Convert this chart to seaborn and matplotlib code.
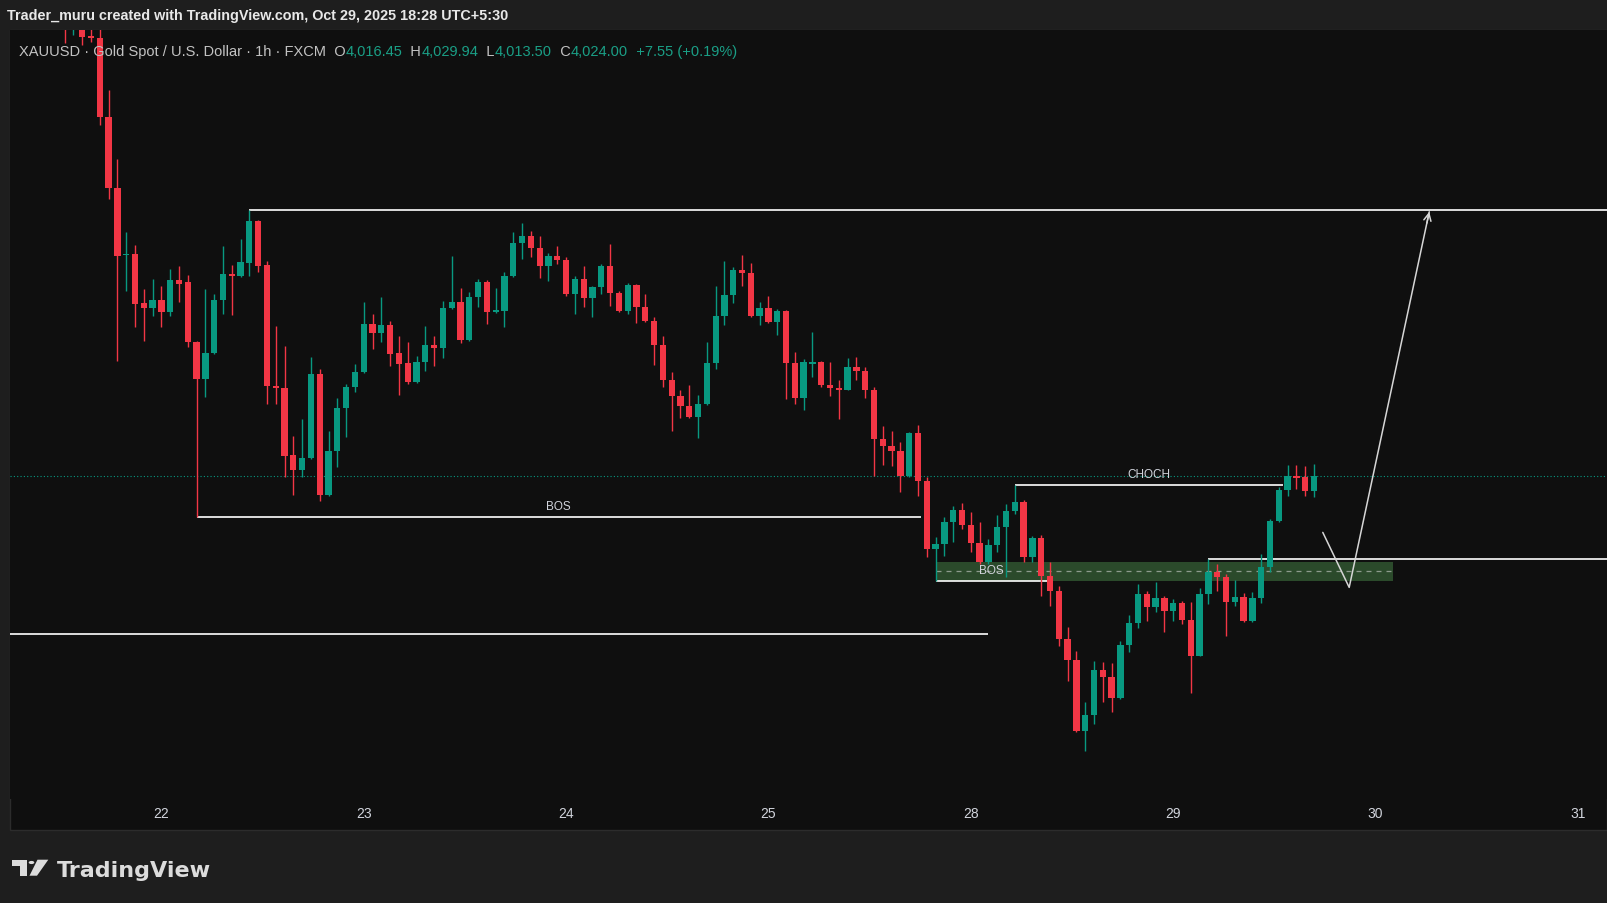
import numpy as np
import pandas as pd
import matplotlib
matplotlib.use("Agg")
import matplotlib.pyplot as plt
from matplotlib.patches import Rectangle, Polygon, Circle
import seaborn as sns

# ---- data: XAUUSD 1h candles (bar index 0 = first bar of Oct 22) ----
bars = list(range(-11, 132))
opens = [4262, 4250, 4252, 4244, 4243.2, 4203.5, 4168, 4134.5, 4135, 4110.5, 4108,
         4112, 4106, 4122, 4121, 4091, 4072.5, 4085.5, 4112, 4125, 4124,
         4130.5, 4151.5, 4129.5, 4069, 4068, 4034.5, 4027, 4033, 4075, 4014.5,
         4036.5, 4058, 4068.5, 4076, 4100, 4095.5, 4099.5, 4085.5, 4080.5, 4071,
         4081, 4089.5, 4088, 4108, 4111, 4092, 4113.5, 4121, 4106.2, 4106.5,
         4124, 4140.5, 4144, 4138, 4129, 4134, 4132, 4115, 4122.5, 4113,
         4118.5, 4129, 4115.5, 4106.5, 4119.5, 4108.5, 4101.5, 4089.5, 4072, 4064,
         4059, 4053.5, 4060, 4080.5, 4104, 4114.5, 4127, 4125.7, 4104, 4108,
         4101, 4106.5, 4080.5, 4063, 4080.2, 4081, 4069.5, 4068, 4067, 4078.5,
         4076.5, 4067, 4042.5, 4039, 4036.5, 4024, 4045.5, 4021.5, 3987.5, 3990,
         4001, 4007, 3999.5, 3990.5, 3981, 3989.5, 3998.5, 4006.5, 4011, 3983.5,
         3993, 3974, 3966.5, 3942.5, 3932, 3896.5, 3904.5, 3927, 3923.5, 3913,
         3939.5, 3950.5, 3965, 3958.5, 3963, 3956.5, 3960.5, 3952, 3934, 3965,
         3976, 3973.5, 3961, 3963.5, 3951.5, 3963, 3978.5, 4001.5, 4017, 4024,
         4023.5, 4016.45]
highs = [4268, 4262, 4258, 4247.5, 4247.5, 4217, 4182.5, 4146, 4139.5, 4117.5, 4122.5,
         4119, 4127.5, 4129, 4124.5, 4091.5, 4117.5, 4115, 4139, 4129.5, 4142.5,
         4157, 4152, 4131.5, 4099, 4089, 4044, 4052.5, 4083.5, 4077.5, 4046.5,
         4063, 4070, 4080, 4111, 4105, 4113.5, 4101.5, 4094, 4091, 4084,
         4099, 4094, 4111.5, 4134, 4118, 4116, 4122.5, 4122, 4118, 4126,
         4146, 4150.5, 4146.5, 4144, 4135.5, 4139, 4133.5, 4124, 4129, 4119,
         4130, 4140, 4116.5, 4120.5, 4120, 4115, 4103.5, 4094, 4076, 4067,
         4069.5, 4064.5, 4091, 4119, 4131.5, 4128.5, 4134.5, 4130.5, 4111, 4114,
         4107.5, 4107, 4086, 4082.5, 4096, 4081.5, 4081, 4072, 4083, 4083.5,
         4078.5, 4068.5, 4049, 4046.5, 4041, 4046, 4049.5, 4023.5, 3993.5, 4003.5,
         4009, 4010.5, 4006, 4001, 3992.5, 4004.5, 4010, 4019.5, 4012, 3994,
         3994.5, 3981, 3969, 3948.5, 3936.5, 3911, 3931.5, 3931, 3930.5, 3941.5,
         3954.5, 3970, 3966.5, 3971, 3964, 3962.5, 3961.5, 3961, 3968, 3982.5,
         3980, 3975, 3972, 3965.5, 3966, 3985, 4002.5, 4018.5, 4029.5, 4029.5,
         4029, 4029.94]
lows = [4240.5, 4244.5, 4239.5, 4241, 4199.5, 4162.5, 4081.5, 4116.5, 4098.5, 4091.5, 4104,
        4098.5, 4104, 4111, 4088.5, 4003.7, 4063.5, 4085, 4105, 4104.5, 4123.5,
        4124, 4126, 4060, 4060, 4023.5, 4014.5, 4023.5, 4032.5, 4011.5, 4014,
        4028.5, 4043.5, 4066, 4075.5, 4087.5, 4091, 4079, 4064.5, 4070, 4070.5,
        4076.5, 4079, 4083, 4107.5, 4090.5, 4091.5, 4108.5, 4100, 4105.5, 4098.5,
        4123.5, 4132.5, 4133.5, 4123, 4121.5, 4130, 4114, 4105, 4108.5, 4103.5,
        4115, 4109, 4106, 4105, 4100.5, 4101, 4079.5, 4068.5, 4046.5, 4053,
        4053, 4043, 4059.5, 4077.5, 4099.5, 4110.5, 4119, 4103.5, 4099.5, 4100.5,
        4094.5, 4062.5, 4060, 4057, 4073.5, 4068.5, 4064, 4052.5, 4067, 4072,
        4063, 4024, 4029.5, 4029, 4016, 4023.5, 4014, 3983.5, 3971.5, 3984,
        3991, 3997.5, 3986, 3980, 3980, 3986, 3973.5, 4005, 3981, 3981,
        3964, 3959, 3939, 3921.5, 3896, 3886.5, 3900, 3911, 3906, 3912.5,
        3936, 3948, 3951.5, 3956, 3946, 3951.5, 3950, 3915.5, 3934, 3960,
        3966.5, 3944, 3959, 3951, 3951, 3960.5, 3976, 4001, 4014, 4017.5,
        4014, 4013.5]
closes = [4252, 4256, 4243.5, 4243, 4203.5, 4168, 4134, 4135, 4110, 4108, 4112,
          4106, 4122, 4120, 4091, 4072.5, 4085.5, 4112, 4125, 4124.2, 4131,
          4151.5, 4129, 4069, 4068, 4034, 4027, 4033, 4075, 4014.5, 4036.5,
          4058, 4068.5, 4076, 4100, 4095.5, 4099.5, 4085, 4080, 4071, 4081,
          4089.5, 4088, 4108, 4111, 4092, 4113.5, 4121, 4106, 4106.7, 4124,
          4140.5, 4144, 4138, 4129, 4134, 4132, 4115, 4122.5, 4113, 4118.5,
          4129, 4115.5, 4106.5, 4119.5, 4108.5, 4101.5, 4089.5, 4072, 4064, 4059,
          4053.5, 4060, 4080.5, 4104, 4114.5, 4127, 4125.7, 4104, 4108, 4101,
          4106.5, 4080.5, 4063, 4081, 4080.7, 4069.5, 4068, 4067, 4078.5, 4076.5,
          4067, 4042.5, 4039, 4036.5, 4024, 4045.5, 4021.5, 3987.5, 3990, 4001,
          4007, 3999.5, 3990.5, 3981, 3989.5, 3998.5, 4006.5, 4011, 3983.5, 3993,
          3974, 3966.5, 3942.5, 3932, 3896.5, 3904.5, 3927, 3923.5, 3913, 3939.5,
          3950.5, 3965, 3958.5, 3963, 3956.5, 3960.5, 3952, 3934, 3965, 3976,
          3973.5, 3961, 3963.5, 3951.5, 3963, 3978.5, 4001.5, 4017, 4024, 4023,
          4016.45, 4024.00]

day_labels = ["22", "23", "24", "25", "28", "29", "30", "31"]
day_bars = [0, 23, 46, 69, 92, 115, 138, 161]

old_low_level = 3944.8      # line coming in from the left edge
old_low_end = 94
zone_start, zone_end = 88, 140
zone_top = 3981.2
path_x = [132, 135, 144.1]  # projected move
path_y = [3995.8, 3968.3, 4156.1]

# ---- style ----
OUTER = "#1e1e1e"
PANEL = "#0f0f0f"
UP = "#089981"
DOWN = "#f23645"
TXT = "#d1d4dc"
sns.set_theme(style="dark", rc={"axes.facecolor": PANEL, "figure.facecolor": OUTER})
plt.rcParams["font.family"] = ["Liberation Sans", "DejaVu Sans"]

W, H = 1607, 904
fig = plt.figure(figsize=(W / 100, H / 100), dpi=100)


def fx(x):
    return x / W


def fy(y):
    return 1 - y / H


fig.add_artist(Rectangle((fx(10), fy(831)), 1 - fx(10), fy(31) - fy(831),
                         transform=fig.transFigure, facecolor=PANEL,
                         edgecolor="#2c2c2c", lw=1, zorder=0))

ax = fig.add_axes([fx(10), fy(800), 1 - fx(10), fy(31) - fy(800)])
ax.set_facecolor(PANEL)
xmin, xmax = -17.2, 164.3
ax.set_xlim(xmin, xmax)
ax.set_ylim(3862.5, 4247.0)

df = pd.DataFrame({"bar": bars, "o": opens, "h": highs, "l": lows, "c": closes})
df["col"] = np.where(df.c >= df.o, UP, DOWN)
df = df.set_index("bar", drop=False)

# current price line
ax.axhline(df.c.iloc[-1], color=UP, lw=0.8, ls=(0, (1, 2)), zorder=1)

# demand zone
ax.add_patch(Rectangle((zone_start, df.l[88]), zone_end - zone_start, zone_top - df.l[88],
                       facecolor="#2b4a2b", lw=0, zorder=1.5))
ax.hlines((zone_top + df.l[88]) / 2, zone_start, zone_end, colors="#8d9b8d",
          linestyles=(0, (4, 4)), lw=0.9, zorder=1.6)

# structure lines
levels = [
    (df.h[10], 10, xmax, None),
    (df.l[4], 4, 86.3, "BOS"),
    (old_low_level, xmin, old_low_end, None),
    (df.l[88], 88, 100.7, "BOS"),
    (df.h[97], 97, 127.5, "CHOCH"),
    (df.h[119], 119, xmax, None),
]
for lvl, a, b, lab in levels:
    ax.hlines(lvl, a, b, colors="white", lw=1.2, zorder=2)
    if lab:
        ax.annotate(lab, xy=((a + b) / 2, lvl), xytext=(0, 7.6), textcoords="offset points",
                    ha="center", va="center", color=TXT, fontsize=8.5, zorder=6)

# candles
ax.vlines(df.bar, df.l, df.h, colors=df.col, lw=1.0, zorder=3)
ax.bar(df.bar, np.maximum((df.c - df.o).abs(), 0.6), bottom=np.minimum(df.o, df.c),
       width=0.72, color=df.col, linewidth=0, zorder=4)

# projected path with arrow
sns.lineplot(x=path_x, y=path_y, ax=ax, color="#d6d6d6", lw=1.1, sort=False,
             estimator=None, zorder=5)
dx, dy = path_x[-1] - path_x[-2], path_y[-1] - path_y[-2]
ax.annotate("", xy=(path_x[-1], path_y[-1]),
            xytext=(path_x[-1] - 0.03 * dx, path_y[-1] - 0.03 * dy),
            arrowprops=dict(arrowstyle="->", color="#d6d6d6", lw=1.1,
                            mutation_scale=13, shrinkA=0, shrinkB=0), zorder=5)

ax.set_xticks(day_bars, day_labels)
ax.set_yticks([])
ax.tick_params(axis="x", length=0, pad=5, labelcolor=TXT, labelsize=10)
ax.grid(False)
for s in ax.spines.values():
    s.set_visible(False)
ax.set_xlabel("")
ax.set_ylabel("")

# ---- texts ----
fig.text(fx(7), fy(16), "Trader_muru created with TradingView.com, Oct 29, 2025 18:28 UTC+5:30",
         color="#e8e8e8", fontsize=10.4, fontweight="bold", va="center", ha="left")

o, h, l, c = df.o.iloc[-1], df.h.iloc[-1], df.l.iloc[-1], df.c.iloc[-1]
chg = c - df.c.iloc[-2]
pct = chg / df.c.iloc[-2] * 100
GRAY = "#c3c3c3"
VAL = "#1a9f86"
HDR = 10.5
parts = [("XAUUSD · Gold Spot / U.S. Dollar · 1h · FXCM", GRAY),
         ("  O", GRAY), (f"{o:,.2f}", VAL),
         ("  H", GRAY), (f"{h:,.2f}", VAL),
         ("  L", GRAY), (f"{l:,.2f}", VAL),
         ("  C", GRAY), (f"{c:,.2f}", VAL),
         (f"  {chg:+.2f} ({pct:+.2f}%)", VAL)]
t = fig.text(fx(19), fy(51.7), parts[0][0], color=parts[0][1], fontsize=HDR,
             va="center", ha="left", zorder=10)
for s, col in parts[1:]:
    t = ax.annotate(s, xy=(1, 0.5), xycoords=t, xytext=(0, 0), textcoords="offset points",
                    color=col, fontsize=HDR, va="center", ha="left",
                    annotation_clip=False, zorder=10)

# footer logo
logo = "#dcdcdc"
fig.add_artist(Polygon([(fx(12), fy(860.7)), (fx(26.7), fy(860.7)), (fx(26.7), fy(876.7)),
                        (fx(20), fy(876.7)), (fx(20), fy(866.7)), (fx(12), fy(866.7))],
                       closed=True, transform=fig.transFigure, facecolor=logo, lw=0))
fig.add_artist(Circle((fx(31.5), fy(863.5)), 2.8 / W, transform=fig.transFigure,
                      facecolor=logo, lw=0))
fig.add_artist(Polygon([(fx(37.5), fy(860.7)), (fx(48.3), fy(860.7)), (fx(37), fy(876.7)),
                        (fx(29.5), fy(876.7))],
                       closed=True, transform=fig.transFigure, facecolor=logo, lw=0))
fig.text(fx(57), fy(876.7), "TradingView", color=logo, fontsize=16, fontweight="bold",
         family=["DejaVu Sans"], va="baseline", ha="left")

fig.savefig("out.png", dpi=100, facecolor=fig.get_facecolor())
